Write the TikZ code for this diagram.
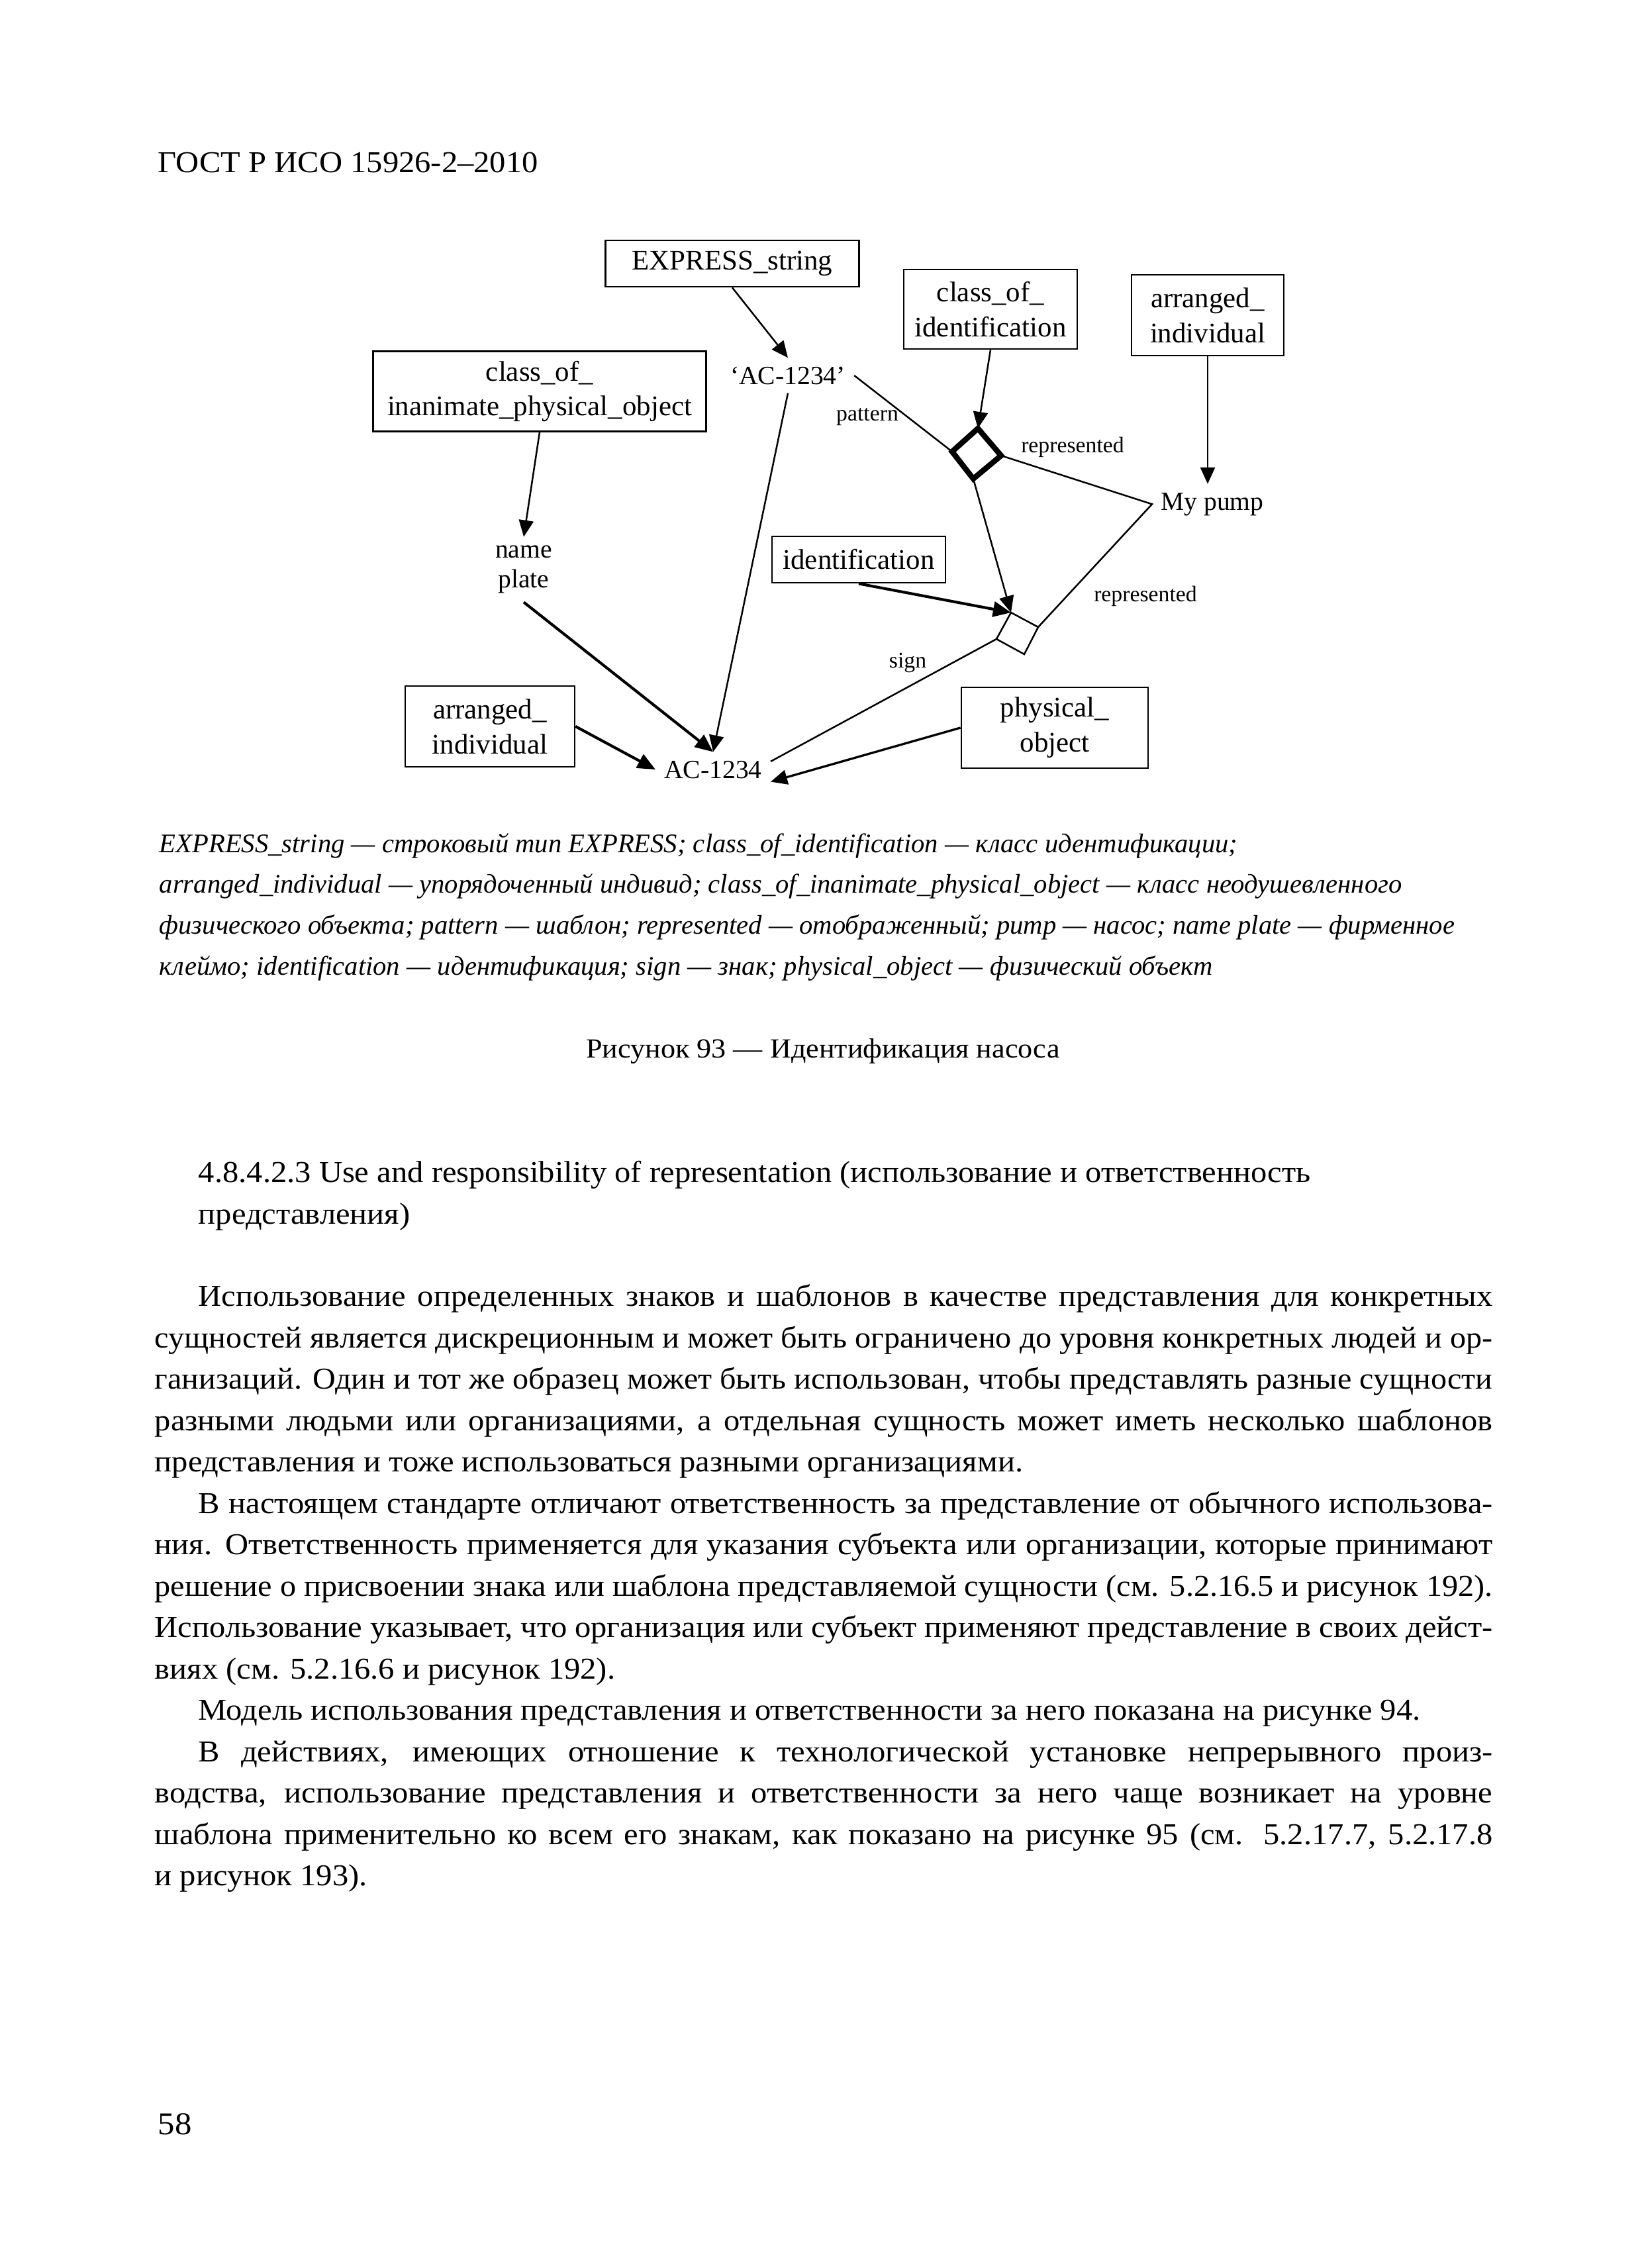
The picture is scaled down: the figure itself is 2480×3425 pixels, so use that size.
\documentclass[tikz,border=0pt]{standalone}
\usepackage{fontspec}
\setmainfont{Liberation Serif}
\newfontfamily\bodyf{Liberation Serif}[FakeStretch=1.06]
\usepackage{graphicx}
\usetikzlibrary{arrows.meta}
\newsavebox\jbox
\newcommand\jtext[2]{\sbox\jbox{#2}\ifdim\wd\jbox>#1\relax\resizebox{#1}{\height}{\usebox\jbox}\else\makebox[#1][s]{#2}\fi}
\tikzset{
  box/.style={draw, line width=0.65pt, inner sep=0pt, align=center, font=\fontsize{10.3}{12.7}\selectfont},
  lbl/.style={inner sep=3pt, align=center, font=\fontsize{9.5}{10.8}\selectfont},
  smalllbl/.style={inner sep=1pt, font=\fontsize{8.1}{9}\selectfont},
  conn/.style={line width=0.6pt},
  arr/.style={conn, -{Triangle[length=6pt,width=5.3pt]}},
  tarr/.style={line width=1pt, -{Triangle[length=6.5pt,width=5.5pt]}},
  marr/.style={line width=0.8pt, -{Triangle[length=6pt,width=5.3pt]}},
  pagetext/.style={anchor=base west, inner sep=0pt, font=\bodyf\fontsize{11}{14}\selectfont},
  captext/.style={anchor=base west, inner sep=0pt, font=\fontsize{9.75}{13}\selectfont\itshape},
}
\newcommand\bodyline[4]{\node[pagetext] (#1) at (#2) {\jtext{#3}{#4}};}
\begin{document}
\begin{tikzpicture}[x=0.24pt,y=-0.24pt]
\useasboundingbox[fill=white] (0,0) rectangle (2480,3425);

% header
\node[anchor=base west, inner sep=0pt, font=\bodyf\fontsize{11}{14}\selectfont] (hdr) at (238,260) {ГОСТ Р ИСО 15926-2–2010};

% ---------- diagram ----------
\node[box, minimum width=91.9pt, minimum height=16.8pt] (express) at (1106,398) {EXPRESS\_string};
\node[box, minimum width=62.9pt, minimum height=28.8pt] (classid) at (1496,467) {class\_of\_\\identification};
\node[box, minimum width=55.2pt, minimum height=29.3pt] (arrtop) at (1824,476) {arranged\_\\individual};
\node[box, minimum width=120.7pt, minimum height=29pt] (inanim) at (815,591) {class\_of\_\\inanimate\_physical\_object};
\node[box, minimum width=62.9pt, minimum height=16.8pt] (ident) at (1297,845) {identification};
\node[box, minimum width=61.4pt, minimum height=29.3pt] (arrbot) at (740,1097) {arranged\_\\individual};
\node[box, minimum width=67.7pt, minimum height=29.3pt] (phys) at (1593,1099) {physical\_\\object};

\node[lbl, anchor=base] (acq) at (1190,580) {‘AC-1234’};
\node[lbl, anchor=base west] (pump) at (1740,770) {My pump};
\node[lbl] (nameplate) at (791,860) {name\\plate};
\node[lbl, anchor=base] (ac) at (1077,1175) {AC-1234};

\node[smalllbl, anchor=base] (patt) at (1310,635) {pattern};
\node[smalllbl, anchor=base] (rep1) at (1620,683) {represented};
\node[smalllbl, anchor=base] (rep2) at (1730,908) {represented};
\node[smalllbl, anchor=base] (sign) at (1371,1008) {sign};

% diamonds
\coordinate (dtop) at (1477,647);
\coordinate (dright) at (1512,688);
\coordinate (dbot) at (1470,723);
\coordinate (dleft) at (1438,682);
\coordinate (sdtop) at (1527,925);
\coordinate (sdright) at (1568,947);
\coordinate (sdbot) at (1547,988);
\coordinate (sdleft) at (1505,965);
\draw[line width=2pt, line join=miter] (dtop) -- (dright) -- (dbot) -- (dleft) -- cycle;
\draw[conn, line join=miter] (sdtop) -- (sdright) -- (sdbot) -- (sdleft) -- cycle;

% connectors
\draw[arr] (express.south) -- (acq.north);
\draw[arr] (classid.south) -- (dtop);
\draw[arr] (arrtop.south) -- (pump.north -| arrtop.south);
\draw[arr] (inanim.south) -- (nameplate.north);
\draw[conn] (acq.east) -- (dleft);
\draw[arr] (acq.south) -- (ac.north);
\draw[tarr] (nameplate.south) -- (ac.north);
\draw[tarr] (arrbot.east) -- (ac.west);
\draw[marr] (phys.west) -- (ac.-12);
\draw[conn] (sdleft) -- (ac.8);
\draw[arr] (dbot) -- (sdtop);
\draw[tarr] (ident.south) -- (sdtop);
\draw[conn, line join=miter] (dright) -- (pump.west) -- (sdright);

% ---------- figure legend ----------
\node[captext] (c1) at (240,1287) {EXPRESS\_string — строковый тип EXPRESS; class\_of\_identification — класс идентификации;};
\node[captext] (c2) at (240,1348) {arranged\_individual — упорядоченный индивид; class\_of\_inanimate\_physical\_object — класс неодушевленного};
\node[captext] (c3) at (240,1410) {физического объекта; pattern — шаблон; represented — отображенный; pump — насос; name plate — фирменное};
\node[captext] (c4) at (240,1472) {клеймо; identification — идентификация; sign — знак; physical\_object — физический объект};

\node[anchor=base, inner sep=0pt, font=\bodyf\fontsize{10}{13}\selectfont] (figcap) at (1243,1597) {Рисунок 93 — Идентификация насоса};

% ---------- body text ----------
\node[pagetext] (h1) at (299,1785) {4.8.4.2.3 Use and responsibility of representation (использование и ответственность};
\node[pagetext] (h2) at (299,1848) {представления)};

\bodyline{p1a}{299,1972}{469.2pt}{Использование определенных знаков и шаблонов в качестве представления для конкретных}
\bodyline{p1b}{233,2035}{485pt}{сущностей является дискреционным и может быть ограничено до уровня конкретных людей и ор-}
\bodyline{p1c}{233,2097}{485pt}{ганизаций. Один и тот же образец может быть использован, чтобы представлять разные сущности}
\bodyline{p1d}{233,2160}{485pt}{разными людьми или организациями, а отдельная сущность может иметь несколько шаблонов}
\node[pagetext] (p1e) at (233,2222) {представления и тоже использоваться разными организациями.};

\bodyline{p2a}{299,2285}{469.2pt}{В настоящем стандарте отличают ответственность за представление от обычного использова-}
\bodyline{p2b}{233,2347}{485pt}{ния. Ответственность применяется для указания субъекта или организации, которые принимают}
\bodyline{p2c}{233,2410}{485pt}{решение о присвоении знака или шаблона представляемой сущности (см. 5.2.16.5 и рисунок 192).}
\bodyline{p2d}{233,2472}{485pt}{Использование указывает, что организация или субъект применяют представление в своих дейст-}
\node[pagetext] (p2e) at (233,2535) {виях (см. 5.2.16.6 и рисунок 192).};

\node[pagetext] (p3a) at (299,2597) {Модель использования представления и ответственности за него показана на рисунке 94.};

\bodyline{p4a}{299,2660}{469.2pt}{В действиях, имеющих отношение к технологической установке непрерывного произ-}
\bodyline{p4b}{233,2722}{485pt}{водства, использование представления и ответственности за него чаще возникает на уровне}
\bodyline{p4c}{233,2785}{485pt}{шаблона применительно ко всем его знакам, как показано на рисунке 95 (см. 5.2.17.7, 5.2.17.8}
\node[pagetext] (p4d) at (233,2847) {и рисунок 193).};

\node[anchor=base west, inner sep=0pt, font=\bodyf\fontsize{11.5}{14}\selectfont] (pgno) at (238,3223) {58};
\end{tikzpicture}
\end{document}
